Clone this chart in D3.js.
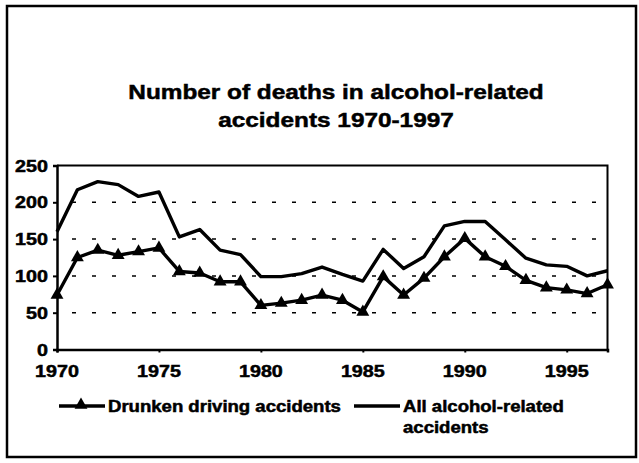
<!DOCTYPE html>
<html>
<head>
<meta charset="utf-8">
<script src="https://cdn.jsdelivr.net/npm/d3@7"></script>
<style>
  body { margin: 0; background: #fff; }
  text { font-family: "Liberation Sans", Arial, sans-serif; font-weight: bold; fill: #000;
         stroke: #000; stroke-width: 0.5px; }
</style>
</head>
<body>
<div id="chart"></div>
<script>
// data
var years = [1970, 1971, 1972, 1973, 1974, 1975, 1976, 1977, 1978, 1979,
             1980, 1981, 1982, 1983, 1984, 1985, 1986, 1987, 1988, 1989,
             1990, 1991, 1992, 1993, 1994, 1995, 1996, 1997];
var drunkDriving = [74, 125, 135, 128, 133, 138, 106, 104, 92, 92,
                    60, 63, 67, 74, 67, 51, 99, 74, 97, 126,
                    151, 126, 113, 94, 84, 81, 76, 88];
var allAlcohol = [160, 217, 228, 224, 208, 214, 153, 163, 135, 129,
                  99, 99, 103, 112, 102, 93, 136, 110, 126, 168,
                  174, 174, 149, 124, 115, 113, 100, 107];
var yTicks = [0, 50, 100, 150, 200, 250];
var xTicks = [1970, 1975, 1980, 1985, 1990, 1995];
var titleLines = ["Number of deaths in alcohol-related", "accidents 1970-1997"];
var legendLabels = ["Drunken driving accidents", ["All alcohol-related", "accidents"]];

var W = 639, H = 463;
// the scan is a bit wider than it is tall, so text gets stretched
var SX = 1.16;

var svg = d3.select("#chart")
    .append("svg")
    .attr("width", W)
    .attr("height", H);

// helper for stretched text
function label(g, x, y, str, size, anchor) {
    return g.append("text")
        .attr("transform", "translate(" + x + "," + y + ") scale(" + SX + ",1)")
        .attr("text-anchor", anchor || "start")
        .style("font-size", size + "px")
        .text(str);
}

// outer frame
svg.append("rect")
    .attr("x", 7).attr("y", 6)
    .attr("width", 629).attr("height", 451)
    .attr("fill", "none")
    .attr("stroke", "#000")
    .attr("stroke-width", 2.5);

// title
titleLines.forEach(function (t, i) {
    label(svg, 336, 99 + i * 28, t, 21, "middle");
});

var x = d3.scaleLinear()
    .domain([1970, 1997])
    .range([57, 607.5]);

var y = d3.scaleLinear()
    .domain([0, 250])
    .range([349.5, 165.5]);

// dashed gridlines
svg.append("g")
    .selectAll("line")
    .data(yTicks.filter(function (d) { return d > 0 && d < 250; }))
    .enter()
    .append("line")
    .attr("x1", x(1970)).attr("x2", x(1997))
    .attr("y1", function (d) { return y(d); })
    .attr("y2", function (d) { return y(d); })
    .attr("stroke", "#000")
    .attr("stroke-width", 1.5)
    .attr("stroke-dasharray", "4,16")
    .attr("stroke-dashoffset", -15);

// plot area border (top + right)
svg.append("path")
    .attr("d", "M" + x(1970) + "," + y(250) + "H" + x(1997) + "V" + y(0))
    .attr("fill", "none")
    .attr("stroke", "#000")
    .attr("stroke-width", 2);

// Y axis
var yAxis = svg.append("g")
    .attr("transform", "translate(" + x(1970) + ",0)")
    .call(d3.axisLeft(y).tickValues(yTicks).tickSize(4).tickFormat(""));
yAxis.select(".domain").attr("stroke-width", 2.5);
yAxis.selectAll(".tick line").attr("stroke-width", 2);
yTicks.forEach(function (d) {
    label(svg, 48, y(d) + 6, d, 17, "end");
});

// X axis
var xAxis = svg.append("g")
    .attr("transform", "translate(0," + y(0) + ")")
    .call(d3.axisBottom(x).tickValues(xTicks).tickSize(3).tickFormat(""));
xAxis.select(".domain").attr("stroke-width", 2.5);
xAxis.selectAll(".tick line").attr("stroke-width", 2);
xTicks.forEach(function (d) {
    label(svg, x(d), 377, d, 17, "middle");
});

// the two series
var line = d3.line()
    .x(function (d, i) { return x(years[i]); })
    .y(function (d) { return y(d); });

svg.append("path")
    .datum(allAlcohol)
    .attr("fill", "none")
    .attr("stroke", "#000")
    .attr("stroke-width", 3.4)
    .attr("stroke-linejoin", "round")
    .attr("d", line);

svg.append("path")
    .datum(drunkDriving)
    .attr("fill", "none")
    .attr("stroke", "#000")
    .attr("stroke-width", 3.4)
    .attr("stroke-linejoin", "round")
    .attr("d", line);

var tri = d3.symbol().type(d3.symbolTriangle).size(72);
svg.append("g")
    .selectAll("path")
    .data(drunkDriving)
    .enter()
    .append("path")
    .attr("transform", function (d, i) { return "translate(" + x(years[i]) + "," + y(d) + ")"; })
    .attr("d", tri)
    .attr("fill", "#000");

// legend
var legend = svg.append("g");
legend.append("line")
    .attr("x1", 59).attr("x2", 105)
    .attr("y1", 406).attr("y2", 406)
    .attr("stroke", "#000").attr("stroke-width", 3.4);
legend.append("path")
    .attr("transform", "translate(81,405)")
    .attr("d", tri)
    .attr("fill", "#000");
label(legend, 108, 412, legendLabels[0], 16);

legend.append("line")
    .attr("x1", 354).attr("x2", 400)
    .attr("y1", 406).attr("y2", 406)
    .attr("stroke", "#000").attr("stroke-width", 3.4);
legendLabels[1].forEach(function (t, i) {
    label(legend, 403, 412 + i * 21, t, 16);
});
</script>
</body>
</html>
